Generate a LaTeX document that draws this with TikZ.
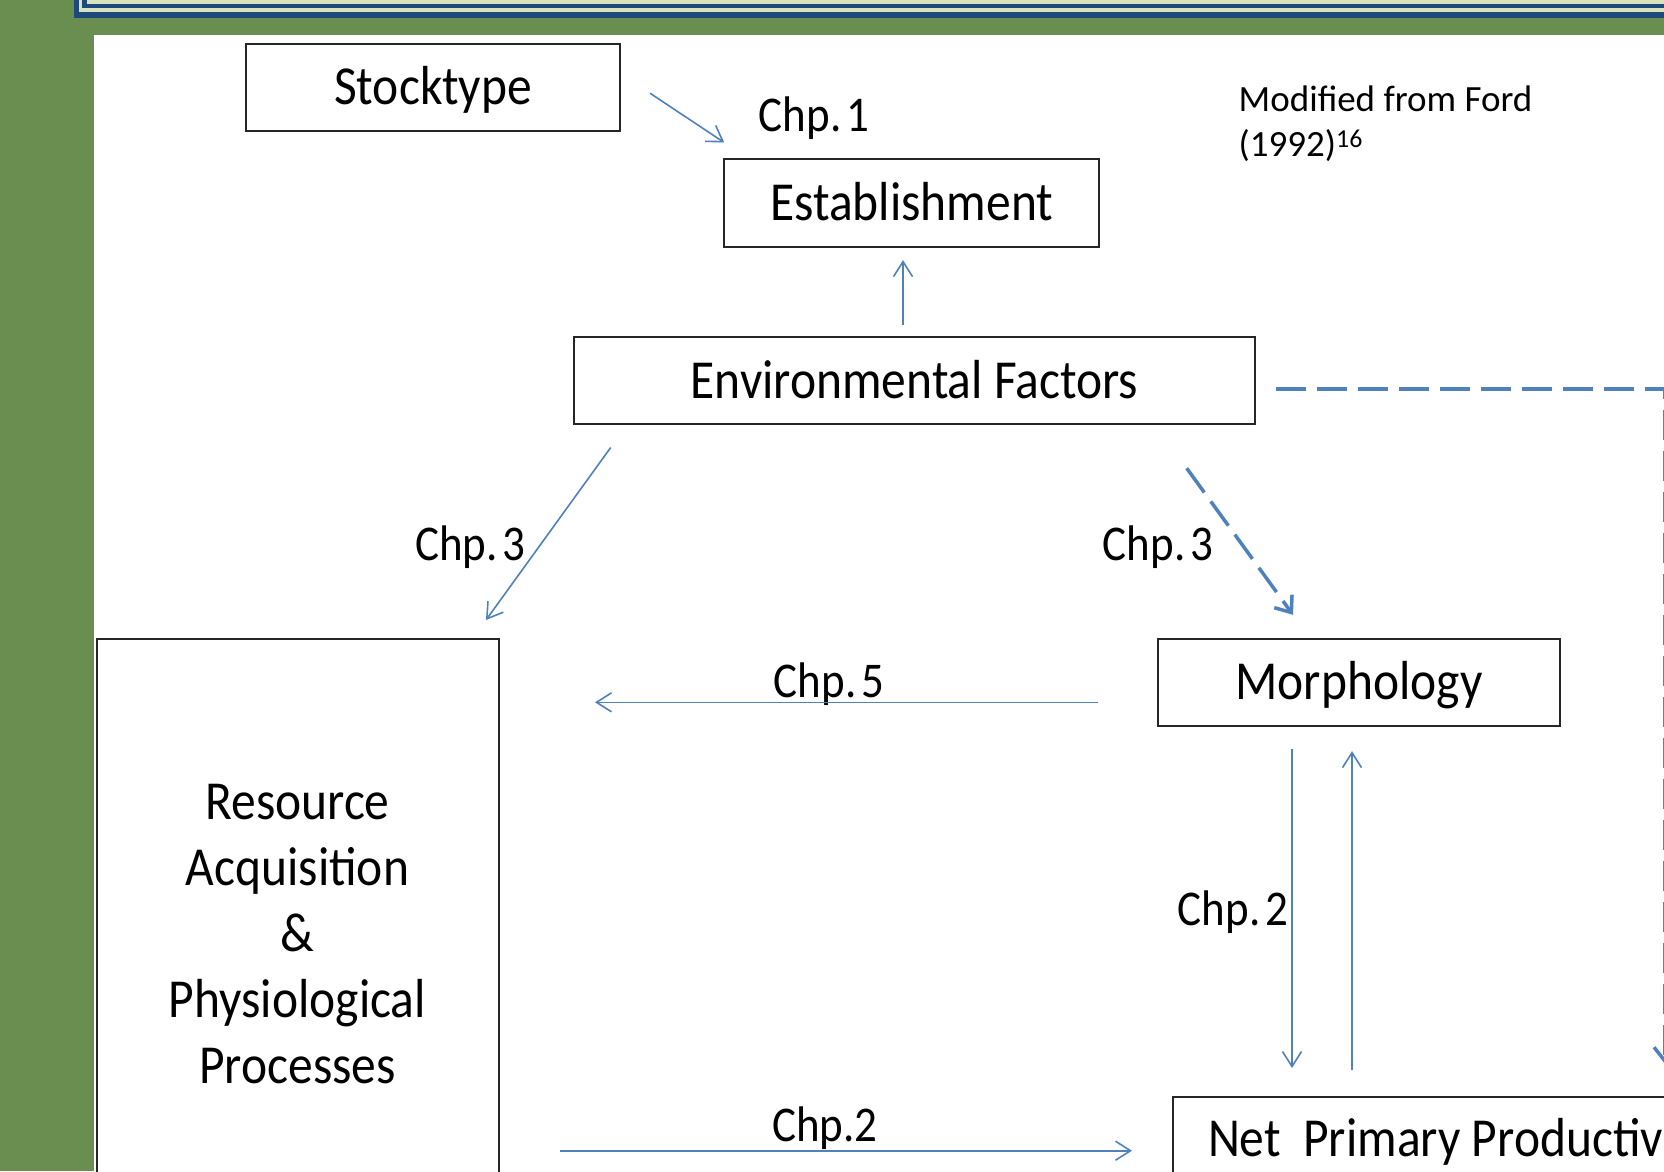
\documentclass[tikz,border=0pt]{standalone}
\usepackage{fontspec}
\setmainfont{Carlito}
\newfontfamily\narrowfont{Carlito}[FakeStretch=0.9]
\usepackage{tikz}
\usetikzlibrary{arrows.meta}

\definecolor{slidegreen}{RGB}{106,141,80}
\definecolor{framelight}{RGB}{215,228,189}
\definecolor{frameblue}{RGB}{31,73,125}
\definecolor{arrowblue}{RGB}{79,129,189}

\newcommand{\chpsp}{\hspace{0.1em}}

\begin{document}
\begin{tikzpicture}[
    x=1pt, y=1pt,
    box/.style={rectangle, draw=black!85, line width=2pt, inner sep=0pt, outer sep=0pt, align=center, font=\narrowfont\fontsize{55}{66}\selectfont},
    boxone/.style={box, align=none, text height=41pt, text depth=6pt},
    chp/.style={anchor=base, inner sep=0pt, font=\narrowfont\fontsize{50}{55}\selectfont},
    flow/.style={draw=arrowblue, line width=1.6pt, -{Straight Barb[length=15pt,width=19pt]}},
    dflow/.style={draw=arrowblue, line width=3.5pt, dash pattern=on 30pt off 11pt, -{Straight Barb[length=14pt,width=22pt]}}
]
    % Slide background
    \clip (0,0) rectangle (1664,-1171);
    \fill[slidegreen] (0,0) rectangle (1664,-1171);
    \fill[white] (94,-34.7) rectangle (1700,-1200);
    \fill[frameblue] (73.5,10) rectangle (1700,-17.7);
    \fill[framelight] (78.5,10) rectangle (1700,-12.3);
    \fill[frameblue] (82.3,10) rectangle (1700,-8.3);
    \fill[framelight] (87.3,10) rectangle (1700,-4);

    % Boxes
    \node[boxone, minimum width=374pt, minimum height=87pt] (stock) at (433,-87.2) {Stocktype};
    \node[boxone, minimum width=375pt, minimum height=88pt] (estab) at (911.7,-202.8) {Establishment};
    \node[boxone, minimum width=681pt, minimum height=87pt] (env) at (914.5,-380.7) {Environmental Factors};
    \node[boxone, minimum width=402pt, minimum height=87pt] (morph) at (1359,-682.3) {Morphology};
    \node[box, minimum width=402pt, minimum height=590pt] (res) at (297.5,-934) {Resource\\Acquisition\\\&\\Physiological\\Processes};
    \node[boxone, anchor=north west, inner xsep=35.3pt, minimum height=85pt] (npp) at (1172.7,-1096.7) {Net\ \ Primary Productivity};

    % Note
    \node[anchor=base west, inner sep=0pt, align=left, font=\fontsize{37}{45}\selectfont] (note) at (1238.5,-156.7) {Modified from Ford\\(1992)\textsuperscript{16}};

    % Chapter labels
    \node[chp] (chpone) at (814,-131.7) {Chp.\chpsp 1};
    \node[chp] (chpthreel) at (470.5,-560) {Chp.\chpsp 3};
    \node[chp] (chpthreer) at (1158,-560) {Chp.\chpsp 3};
    \node[chp] (chpfive) at (829,-697) {Chp.\chpsp 5};
    \node[chp] (chptwor) at (1233,-925) {Chp.\chpsp 2};
    \node[chp] (chptwob) at (825,-1141.7) {Chp.2};

    % Connections
    \draw[flow] ([shift={(30,-6)}]stock.east) -- ([shift={(0,16.3)}]estab.north west);
    \draw[flow] ([shift={(-11.5,12.3)}]env.north) -- ([shift={(-8.7,-13.3)}]estab.south);
    \draw[flow] ([shift={(36.7,-23.3)}]env.south west) -- ([shift={(-12.5,19)}]res.north east);
    \draw[dflow] ([shift={(-68.3,-44)}]env.south east) -- ([shift={(135,24)}]morph.north west);
    \draw[flow] ([shift={(-60,-20)}]morph.west) -- ([shift={(96.5,-63.3)}]res.north east);
    \draw[flow] ([shift={(-67,-23.3)}]morph.south) -- ([shift={(119.3,28.7)}]npp.north west);
    \draw[flow] ([shift={(179.3,26.7)}]npp.north west) -- ([shift={(-7,-25.3)}]morph.south);
    \draw[flow] ([shift={(61.5,78.3)}]res.south east) -- ([shift={(-40.7,-11.5)}]npp.west);
    \draw[dflow] ([shift={(21,-8.3)}]env.east) -| ([shift={(492.3,32.7)}]npp.north west);
\end{tikzpicture}
\end{document}
